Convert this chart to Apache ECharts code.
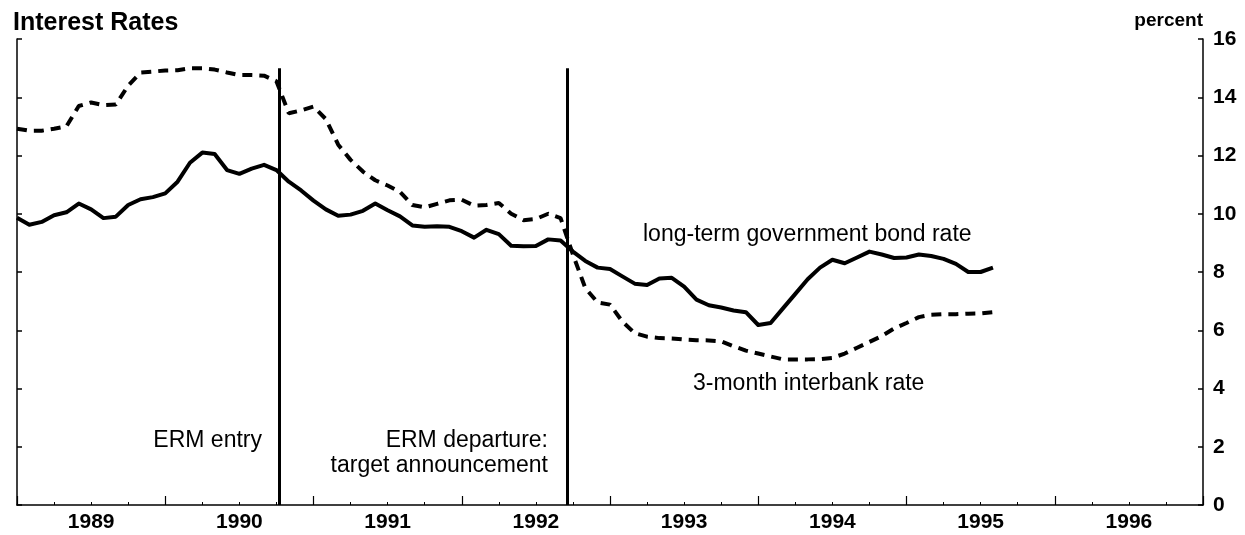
<!DOCTYPE html>
<html>
<head>
<meta charset="utf-8">
<script src="https://cdn.jsdelivr.net/npm/echarts@6/dist/echarts.min.js"></script>
<style>
  html, body { margin: 0; padding: 0; background: #fff; }
  #chart { width: 1245px; height: 535px; }
</style>
</head>
<body>
<div id="chart"></div>
<script>
// ── 数据 ── monthly, starting Jan 1989
const startYear = 1989;
const bondRate = [
  9.86, 9.62, 9.72, 9.95, 10.05, 10.35, 10.15, 9.85, 9.9, 10.3, 10.5, 10.57,
  10.7, 11.1, 11.75, 12.1, 12.05, 11.5, 11.37, 11.55, 11.68, 11.5, 11.1, 10.8,
  10.45, 10.15, 9.93, 9.97, 10.1, 10.35, 10.12, 9.91, 9.6, 9.55, 9.57, 9.55,
  9.4, 9.18, 9.45, 9.3, 8.9, 8.88, 8.89, 9.12, 9.08, 8.7, 8.38, 8.15,
  8.1, 7.85, 7.6, 7.55, 7.78, 7.8, 7.5, 7.05, 6.86, 6.78, 6.68, 6.62,
  6.18, 6.25, 6.75, 7.25, 7.75, 8.15, 8.42, 8.3, 8.5, 8.7, 8.6, 8.48,
  8.5, 8.6, 8.55, 8.45, 8.28, 8.0, 8.0, 8.15
];
const interbankRate = [
  12.92, 12.85, 12.85, 12.92, 13.0, 13.7, 13.82, 13.73, 13.75, 14.4, 14.85, 14.88,
  14.92, 14.93, 15.0, 15.0, 14.95, 14.85, 14.76, 14.76, 14.74, 14.55, 13.45, 13.55,
  13.68, 13.25, 12.37, 11.85, 11.45, 11.15, 10.97, 10.75, 10.3, 10.22, 10.34, 10.46,
  10.48, 10.28, 10.3, 10.37, 10.0, 9.78, 9.82, 10.0, 9.85, 8.6, 7.45, 6.95,
  6.88, 6.3, 5.9, 5.78, 5.73, 5.72, 5.68, 5.66, 5.65, 5.62, 5.45, 5.3,
  5.2, 5.1, 5.0, 5.0, 5.0, 5.01, 5.05, 5.2, 5.4, 5.6, 5.8, 6.06,
  6.25, 6.45, 6.53, 6.55, 6.55, 6.57, 6.58, 6.62
];
const ermDates = [1990.77, 1992.71];   // ERM entry, ERM departure
const ermTop = 15;

const toPoints = arr => arr.map((v, i) => [startYear + i / 12, v]);

const font = "'Liberation Sans', Arial, Helvetica, sans-serif";
const chart = echarts.init(document.getElementById('chart'));

chart.setOption({
  animation: false,
  backgroundColor: '#fff',
  grid: { left: 17, right: 42, top: 39, bottom: 30 },
  xAxis: [
    { type: 'value', min: 1989, max: 1997, interval: 0.5, position: 'bottom',
      axisLine: { lineStyle: { color: '#000', width: 1.5 } },
      axisTick: { show: false }, splitLine: { show: false },
      axisLabel: { color: '#000', fontSize: 21, fontWeight: 'bold', fontFamily: font, margin: 7,
        formatter: v => (v % 1 === 0.5 ? String(Math.floor(v)) : '') } },
    { type: 'value', min: 1989, max: 1997, interval: 1, position: 'bottom',
      axisLine: { show: false }, axisLabel: { show: false }, splitLine: { show: false },
      axisTick: { inside: true, length: 9, lineStyle: { color: '#000', width: 1.2 } },
      minorTick: { show: true, splitNumber: 4, length: 3, lineStyle: { color: '#000', width: 1 } } }
  ],
  yAxis: [
    { type: 'value', min: 0, max: 16, interval: 2, position: 'right',
      axisLine: { show: true, lineStyle: { color: '#000', width: 1.5 } },
      axisTick: { show: true, inside: true, length: 5, lineStyle: { color: '#000', width: 1.5 } },
      axisLabel: { color: '#000', fontSize: 21, fontWeight: 'bold', fontFamily: font, margin: 10 },
      splitLine: { show: false } },
    { type: 'value', min: 0, max: 16, interval: 2, position: 'left',
      axisLine: { show: true, lineStyle: { color: '#000', width: 1.5 } },
      axisTick: { show: true, inside: true, length: 5, lineStyle: { color: '#000', width: 1.5 } },
      axisLabel: { show: false }, splitLine: { show: false } }
  ],
  series: [
    { name: 'long-term government bond rate', type: 'line', data: toPoints(bondRate),
      xAxisIndex: 0, yAxisIndex: 0, showSymbol: false, smooth: false,
      lineStyle: { color: '#000', width: 4, join: 'round' },
      markLine: { silent: true, symbol: ['none', 'none'], label: { show: false },
        lineStyle: { color: '#000', width: 3, type: 'solid' },
        data: ermDates.map(d => [{ coord: [d, 0] }, { coord: [d, ermTop] }]) } },
    { name: '3-month interbank rate', type: 'line', data: toPoints(interbankRate),
      xAxisIndex: 0, yAxisIndex: 0, showSymbol: false, smooth: false,
      lineStyle: { color: '#000', width: 4, type: [10, 7] } }
  ],
  graphic: [
    { type: 'text', x: 13, y: 23, style: { text: 'Interest Rates', fill: '#000', font: 'bold 25px ' + font, textAlign: 'left', textVerticalAlign: 'middle' } },
    { type: 'text', x: 1203, y: 21, style: { text: 'percent', fill: '#000', font: 'bold 19px ' + font, textAlign: 'right', textVerticalAlign: 'middle' } },
    { type: 'text', x: 262, y: 441, style: { text: 'ERM entry', fill: '#000', font: '23px ' + font, textAlign: 'right', textVerticalAlign: 'middle' } },
    { type: 'text', x: 548, y: 441, style: { text: 'ERM departure:', fill: '#000', font: '23px ' + font, textAlign: 'right', textVerticalAlign: 'middle' } },
    { type: 'text', x: 548, y: 466, style: { text: 'target announcement', fill: '#000', font: '23px ' + font, textAlign: 'right', textVerticalAlign: 'middle' } },
    { type: 'text', x: 643, y: 235, style: { text: 'long-term government bond rate', fill: '#000', font: '23px ' + font, textAlign: 'left', textVerticalAlign: 'middle' } },
    { type: 'text', x: 693, y: 384, style: { text: '3-month interbank rate', fill: '#000', font: '23px ' + font, textAlign: 'left', textVerticalAlign: 'middle' } }
  ]
});
</script>
</body>
</html>
